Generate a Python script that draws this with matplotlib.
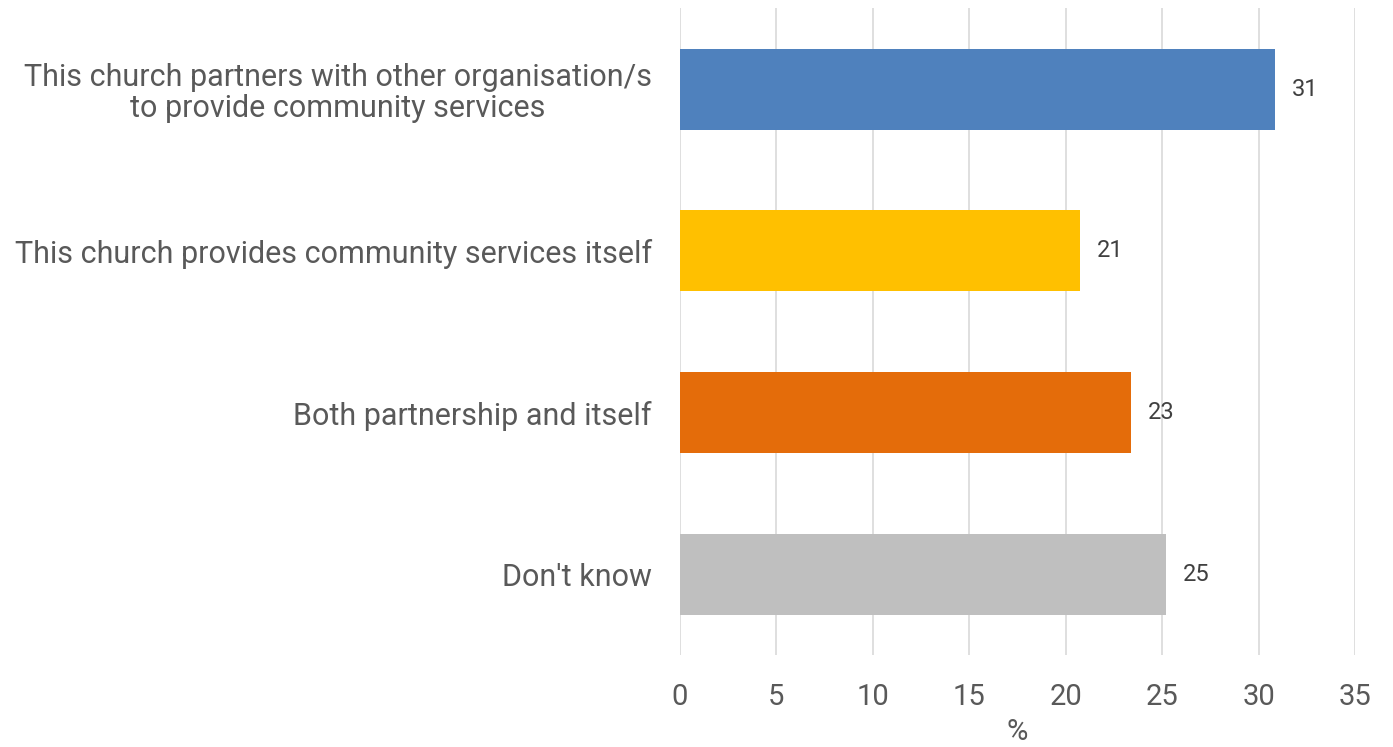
import numpy as np
import matplotlib
matplotlib.use("Agg")
import matplotlib.pyplot as plt

plt.rcParams['font.family'] = ['Roboto', 'DejaVu Sans']

categories = [
    "This church partners with other organisation/s\nto provide community services",
    "This church provides community services itself",
    "Both partnership and itself",
    "Don't know",
]
values = [30.85, 20.75, 23.4, 25.2]
value_labels = ["31", "21", "23", "25"]
colors = ["#4F81BD", "#FFC000", "#E46C0A", "#BFBFBF"]
xticks = [0, 5, 10, 15, 20, 25, 30, 35]

text_color = "#595959"

fig = plt.figure(figsize=(13.93, 7.47), dpi=100)
ax = fig.add_axes([0.488, 0.123, 0.485, 0.866])

y = np.arange(len(categories))
bars = ax.barh(y, values, height=0.5, color=colors, zorder=3)

for b, lab in zip(bars, value_labels):
    ax.text(b.get_width() + 0.85, b.get_y() + b.get_height() / 2, lab,
            va="center", ha="left", fontsize=17, color="#404040")

ax.set_ylim(len(categories) - 0.5, -0.5)
ax.set_xlim(0, 35)
ax.set_xticks(xticks)
ax.set_yticks(y)
ax.set_yticklabels(categories, fontsize=22, color=text_color,
                   ha="right", multialignment="center", linespacing=1.1)
ax.tick_params(axis="y", length=0, pad=20)
ax.tick_params(axis="x", length=0, labelsize=21, labelcolor=text_color, pad=20)
ax.set_xlabel("%", fontsize=21, color=text_color, labelpad=5)

ax.grid(axis="x", color="#D9D9D9", linewidth=1.2, zorder=0)
for s in ax.spines.values():
    s.set_visible(False)

fig.savefig("out.png", dpi=100)
